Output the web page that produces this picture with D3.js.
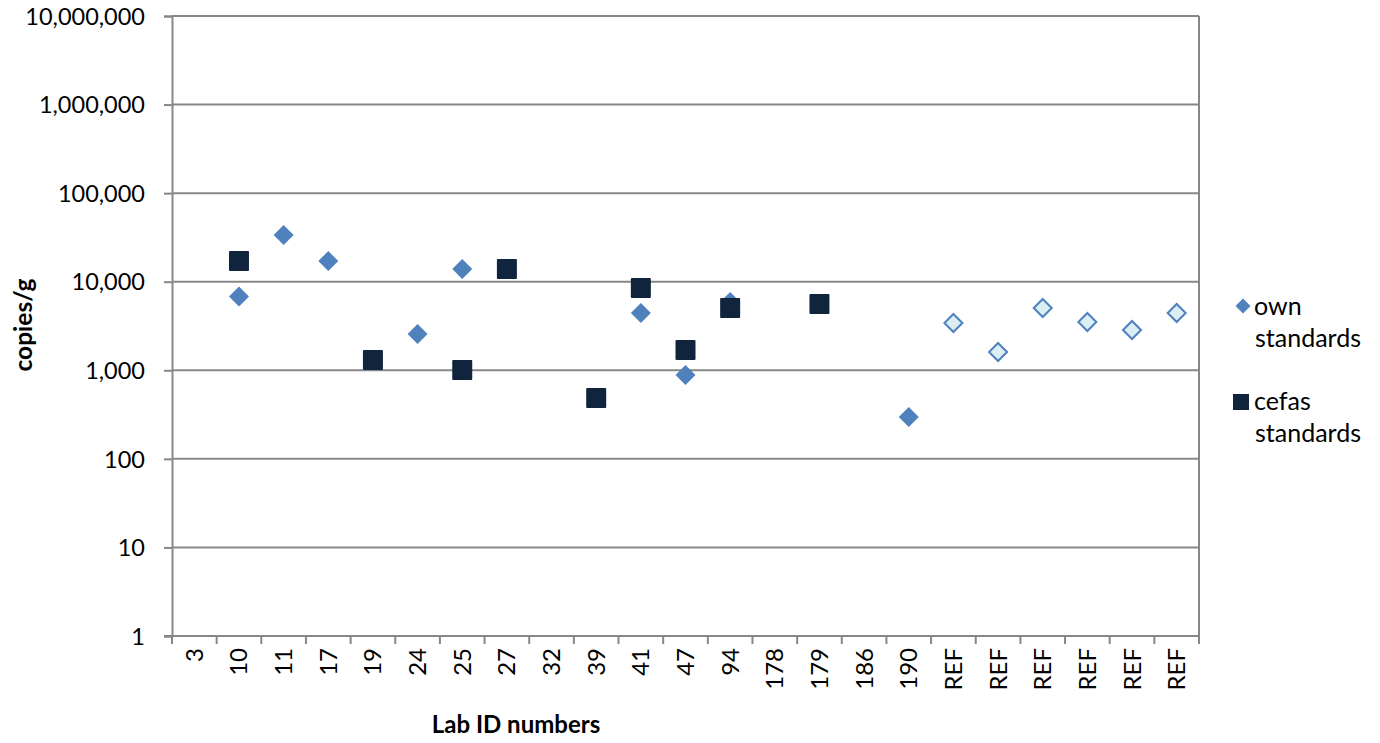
<!DOCTYPE html>
<html>
<head>
<meta charset="utf-8">
<script src="https://cdn.jsdelivr.net/npm/d3@7"></script>
<style>
  html, body { margin: 0; padding: 0; background: #fff; }
  svg text { font-family: Lato, "Open Sans", sans-serif; fill: #000; }
</style>
</head>
<body>
<svg id="chart" width="1380" height="743"></svg>
<script>
// Lab IDs along the x axis (REF repeats, so each slot gets its own key)
const labIds = ["3","10","11","17","19","24","25","27","32","39","41","47","94","178","179","186","190","REF","REF","REF","REF","REF","REF"];

// copies/g measured with each lab's own standards
const ownSlots  = [1, 2, 3, 5, 6, 10, 11, 12, 16];
const ownValues = [6800, 33700, 17100, 2570, 13900, 4430, 885, 5900, 297];

// reference lab results (own standards, light fill)
const refSlots  = [17, 18, 19, 20, 21, 22];
const refValues = [3420, 1610, 5050, 3510, 2850, 4430];

// copies/g measured with cefas standards
const cefasSlots  = [1, 4, 6, 7, 9, 10, 11, 12, 14];
const cefasValues = [17100, 1307, 1010, 13900, 487, 8490, 1695, 5050, 5600];

const yTicks = [1, 10, 100, 1000, 10000, 100000, 1000000, 10000000];

const svg = d3.select("#chart");
const m = { left: 172, right: 1199, top: 16, bottom: 636 };
const grid = "#878787";

const slots = labIds.map((d, i) => i);
const x = d3.scaleBand().domain(slots).range([m.left, m.right]).padding(0);
const y = d3.scaleLog().domain([1, 1e7]).range([m.bottom, m.top]);
const cx = i => x(i) + x.bandwidth() / 2;

// horizontal gridlines
svg.append("g").selectAll("line").data(yTicks.slice(1)).join("line")
  .attr("x1", m.left).attr("x2", m.right)
  .attr("y1", d => y(d)).attr("y2", d => y(d))
  .attr("stroke", grid).attr("stroke-width", 2);

// right border of the plot area
svg.append("line").attr("x1", m.right).attr("x2", m.right)
  .attr("y1", m.top).attr("y2", m.bottom).attr("stroke", grid).attr("stroke-width", 2);

// y axis
const yAxis = svg.append("g").attr("transform", `translate(${m.left},0)`)
  .call(d3.axisLeft(y).tickValues(yTicks).tickFormat(d3.format(",")).tickSize(8).tickPadding(19));
yAxis.select(".domain").attr("stroke", grid).attr("stroke-width", 2);
yAxis.selectAll(".tick line").attr("stroke", grid).attr("stroke-width", 2);
yAxis.selectAll(".tick text").attr("font-size", 23.5).attr("font-family", "Lato, sans-serif").attr("dy", "0.35em");

// x axis: ticks at category boundaries
const xg = svg.append("g");
xg.append("line").attr("x1", m.left - 8).attr("x2", m.right)
  .attr("y1", m.bottom).attr("y2", m.bottom).attr("stroke", grid).attr("stroke-width", 2);
xg.selectAll("line.tk").data(d3.range(labIds.length + 1)).join("line").attr("class", "tk")
  .attr("x1", i => m.left + i * x.bandwidth()).attr("x2", i => m.left + i * x.bandwidth())
  .attr("y1", m.bottom).attr("y2", m.bottom + 8)
  .attr("stroke", grid).attr("stroke-width", 2);
xg.selectAll("text").data(slots).join("text")
  .attr("transform", i => `translate(${cx(i) + 8.5},${m.bottom + 12}) rotate(-90)`)
  .attr("text-anchor", "end")
  .attr("font-size", 24)
  .text(i => labIds[i]);

// axis titles
svg.append("text").attr("transform", "translate(32,325) rotate(-90)")
  .attr("text-anchor", "middle").attr("font-size", 24.5).attr("font-weight", "bold").text("copies/g");
svg.append("text").attr("x", 516).attr("y", 733)
  .attr("text-anchor", "middle").attr("font-size", 24).attr("font-weight", "bold").text("Lab ID numbers");

const diamond = s => `M0,${-s}L${s},0L0,${s}L${-s},0Z`;
const own = "#4F81BD", cefas = "#10243E";

// own standards
svg.append("g").selectAll("path").data(ownSlots.map((s, k) => [s, ownValues[k]])).join("path")
  .attr("d", diamond(10))
  .attr("transform", d => `translate(${cx(d[0])},${y(d[1])})`)
  .attr("fill", own);

// reference results
svg.append("g").selectAll("path").data(refSlots.map((s, k) => [s, refValues[k]])).join("path")
  .attr("d", diamond(9))
  .attr("transform", d => `translate(${cx(d[0])},${y(d[1])})`)
  .attr("fill", "#DAEEF3").attr("stroke", own).attr("stroke-width", 2);

// cefas standards
svg.append("g").selectAll("rect").data(cefasSlots.map((s, k) => [s, cefasValues[k]])).join("rect")
  .attr("x", d => cx(d[0]) - 10).attr("y", d => y(d[1]) - 10)
  .attr("width", 20).attr("height", 20).attr("rx", 1)
  .attr("fill", cefas);

// legend
const lg = svg.append("g");
lg.append("path").attr("d", diamond(7.5)).attr("transform", "translate(1243,306)").attr("fill", own);
lg.append("rect").attr("x", 1233).attr("y", 394).attr("width", 16).attr("height", 16).attr("fill", cefas);
[["own", 1254, 315], ["standards", 1255, 347], ["cefas", 1254, 410], ["standards", 1255, 442]]
  .forEach(([t, lx, ly]) => lg.append("text").attr("x", lx).attr("y", ly).attr("font-size", 25).text(t));
</script>
</body>
</html>
